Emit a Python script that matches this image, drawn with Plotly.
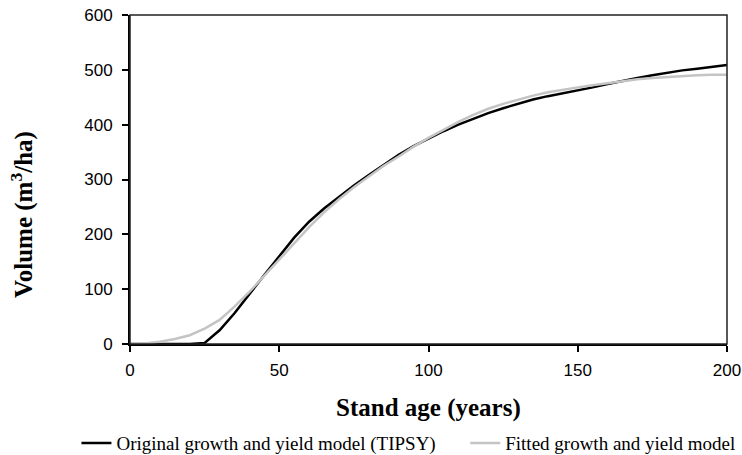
import plotly.graph_objects as go

# Stand age (years)
ages = list(range(0, 205, 5))

# Volume (m3/ha) from the original TIPSY growth and yield model
tipsy_volume = [0, 0, 0, 0, 0, 2, 25, 56, 92, 126,
                160, 194, 223, 247, 268, 289, 308, 327, 345, 361,
                375, 388, 400, 411, 421, 430, 438, 446, 452, 457,
                462, 468, 474, 480, 485, 490, 495, 499, 502, 505, 509]

# Volume (m3/ha) from the fitted growth and yield model
fitted_volume = [0, 1, 4, 9, 16, 28, 44, 68, 95, 124,
                 153, 184, 213, 240, 264, 286, 305, 325, 342, 360,
                 376, 391, 405, 418, 429, 438, 446, 453, 459, 464,
                 468, 472, 476, 480, 483, 485, 487, 489, 490, 491, 491]

x_ticks = [0, 50, 100, 150, 200]
y_ticks = [0, 100, 200, 300, 400, 500, 600]

serif = "Liberation Serif"
sans = "Liberation Sans"

fig = go.Figure()
fig.add_trace(go.Scatter(
    x=ages, y=tipsy_volume, mode="lines",
    name="Original growth and yield model (TIPSY)",
    line=dict(color="#000000", width=2.5), legend="legend",
))
fig.add_trace(go.Scatter(
    x=ages, y=fitted_volume, mode="lines",
    name="Fitted growth and yield model",
    line=dict(color="#c4c4c4", width=2.5), legend="legend2",
))

legend_style = dict(
    orientation="h", xref="container", yref="container",
    y=0.026, xanchor="left", yanchor="middle",
    font=dict(family=serif, size=19, color="#000000"),
    bgcolor="rgba(0,0,0,0)", itemwidth=30,
)

fig.update_layout(
    width=742, height=455,
    margin=dict(l=130, r=15, t=15, b=111, autoexpand=False),
    paper_bgcolor="white", plot_bgcolor="white",
    showlegend=True,
    legend=dict(legend_style, x=0.103),
    legend2=dict(legend_style, x=0.627),
    xaxis=dict(
        range=[0, 200], tickvals=x_ticks, ticks="outside", ticklen=6,
        tickwidth=2, tickcolor="#000000", showline=True, linecolor="#000000",
        linewidth=2, showgrid=False, zeroline=False, automargin=False,
        ticklabelstandoff=4,
        tickfont=dict(family=sans, size=17, color="#000000"),
    ),
    yaxis=dict(
        range=[0, 600], tickvals=y_ticks, ticks="outside", ticklen=6,
        tickwidth=2, tickcolor="#000000", showline=True, linecolor="#000000",
        linewidth=2, showgrid=False, zeroline=False, automargin=False,
        ticklabelstandoff=6,
        tickfont=dict(family=sans, size=17, color="#000000"),
    ),
    annotations=[
        dict(text="<b>Stand age (years)</b>", xref="paper", yref="paper",
             x=0.5, y=-0.195, xanchor="center", yanchor="middle",
             showarrow=False, font=dict(family=serif, size=25, color="#000000")),
        dict(text="<b>Volume (m<sup>3</sup>/ha)</b>", xref="paper", yref="paper",
             x=-0.181, y=0.395, xanchor="center", yanchor="middle", textangle=-90,
             showarrow=False, font=dict(family=serif, size=25, color="#000000")),
    ],
    shapes=[
        dict(type="rect", xref="paper", yref="paper", x0=0, y0=0, x1=1, y1=1,
             line=dict(color="#222222", width=1.5), layer="above"),
    ],
)

fig.write_html("out.html")
